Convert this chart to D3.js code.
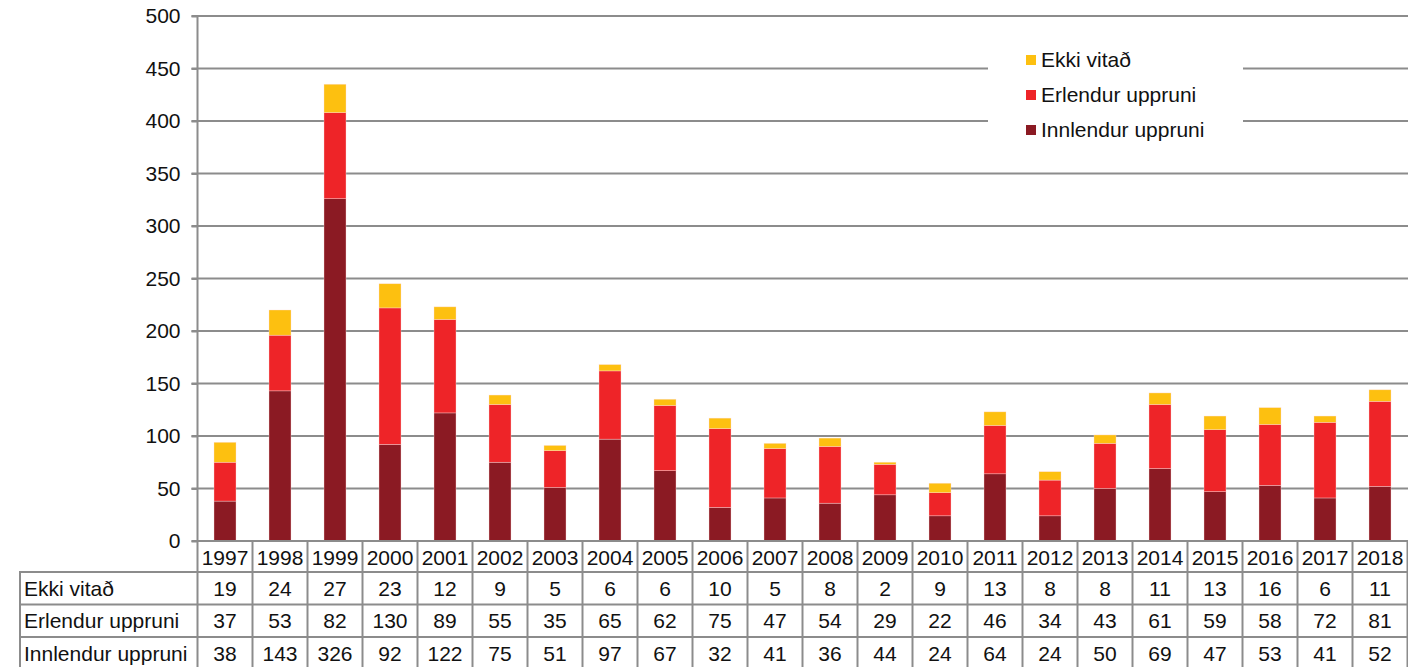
<!DOCTYPE html>
<html>
<head>
<meta charset="utf-8">
<script src="https://cdn.jsdelivr.net/npm/d3@7"></script>
<style>
  html, body { margin: 0; padding: 0; background: #fff; }
  svg { display: block; font-family: "Liberation Sans", Arial, sans-serif; }
</style>
</head>
<body>
<svg id="chart" width="1408" height="667"></svg>
<script>
const years = ["1997","1998","1999","2000","2001","2002","2003","2004","2005","2006","2007","2008","2009","2010","2011","2012","2013","2014","2015","2016","2017","2018"];
const ekkiVitad = [19,24,27,23,12,9,5,6,6,10,5,8,2,9,13,8,8,11,13,16,6,11];
const erlendur = [37,53,82,130,89,55,35,65,62,75,47,54,29,22,46,34,43,61,59,58,72,81];
const innlendur = [38,143,326,92,122,75,51,97,67,32,41,36,44,24,64,24,50,69,47,53,41,52];
const yTicks = [0,50,100,150,200,250,300,350,400,450,500];

const seriesNames = ["Innlendur uppruni","Erlendur uppruni","Ekki vitað"];
const seriesValues = [innlendur, erlendur, ekkiVitad];
const colors = ["#8B1A23","#EE2428","#FDC010"];

const svg = d3.select("#chart");
const gridCol = "#8c8c8c";
const fs = 21;
const txtCol = "#111";
const plotLeft = 197.5, plotRight = 1407.5, plotTop = 16, plotBottom = 541;

const x = d3.scaleBand().domain(years).range([plotLeft, plotRight]).paddingInner(0).paddingOuter(0);
const y = d3.scaleLinear().domain([0, 500]).range([plotBottom, plotTop]);

// gridlines
const grid = svg.append("g");
grid.selectAll("line").data(yTicks.filter(d => d > 0)).join("line")
  .attr("x1", plotLeft - 6).attr("x2", 1408)
  .attr("y1", d => y(d)).attr("y2", d => y(d))
  .attr("stroke", gridCol).attr("stroke-width", 2);

// y axis
const yAxis = d3.axisLeft(y).tickValues(yTicks).tickSize(6).tickPadding(11).tickFormat(d3.format("d"));
const ya = svg.append("g").attr("transform", `translate(${plotLeft},0)`).call(yAxis);
ya.select(".domain").remove();
ya.selectAll(".tick line").attr("stroke", gridCol).attr("stroke-width", 2);
ya.selectAll(".tick text").attr("font-size", fs).attr("fill", txtCol).attr("font-family", "Liberation Sans, Arial, sans-serif");
svg.append("line").attr("x1", plotLeft).attr("x2", plotLeft).attr("y1", plotTop - 1).attr("y2", 667)
  .attr("stroke", gridCol).attr("stroke-width", 2);

// stacked data
const tableData = years.map((yr, i) => {
  const o = { year: yr };
  seriesNames.forEach((s, k) => o[s] = seriesValues[k][i]);
  return o;
});
const stack = d3.stack().keys(seriesNames)(tableData);
const barW = 22;
svg.append("g").selectAll("g").data(stack).join("g")
  .attr("fill", (d, k) => colors[k])
  .selectAll("rect").data(d => d).join("rect")
  .attr("x", d => x(d.data.year) + x.bandwidth() / 2 - barW / 2)
  .attr("width", barW)
  .attr("y", d => y(d[1]))
  .attr("height", d => y(d[0]) - y(d[1]))
  .attr("stroke", "rgba(255,220,220,0.6)").attr("stroke-width", 0.6);

// legend box
const lg = svg.append("g");
lg.append("rect").attr("x", 988).attr("y", 40).attr("width", 255).attr("height", 112).attr("fill", "#fff");
const legendOrder = [2, 1, 0];
legendOrder.forEach((k, i) => {
  const yy = 60 + i * 35;
  lg.append("rect").attr("x", 1026).attr("y", yy - 5).attr("width", 10).attr("height", 10).attr("fill", colors[k]);
  lg.append("text").attr("x", 1041).attr("y", yy).attr("dy", "0.35em")
    .attr("font-size", fs).attr("fill", txtCol).text(seriesNames[k]);
});

// data table
const rowTop = 541, yearRowH = 31, rowH = 32.5;
const tbl = svg.append("g");
tbl.append("line").attr("x1", plotLeft - 6).attr("x2", 1408).attr("y1", plotBottom).attr("y2", plotBottom)
  .attr("stroke", gridCol).attr("stroke-width", 2);
tbl.selectAll("text.yr").data(years).join("text").attr("class", "yr")
  .attr("x", d => x(d) + x.bandwidth() / 2).attr("y", rowTop + yearRowH / 2 + 1).attr("dy", "0.35em")
  .attr("text-anchor", "middle").attr("font-size", fs).attr("fill", txtCol).text(d => d);
tbl.selectAll("line.v").data(years).join("line").attr("class", "v")
  .attr("x1", d => x(d) + x.bandwidth()).attr("x2", d => x(d) + x.bandwidth())
  .attr("y1", rowTop).attr("y2", 667).attr("stroke", gridCol).attr("stroke-width", 2);
const tableRows = [["Ekki vitað", ekkiVitad], ["Erlendur uppruni", erlendur], ["Innlendur uppruni", innlendur]];
const tableLeft = 20;
tableRows.forEach((r, i) => {
  const y0 = rowTop + yearRowH + i * rowH;
  tbl.append("line").attr("x1", tableLeft - 1).attr("x2", 1408).attr("y1", y0).attr("y2", y0)
    .attr("stroke", gridCol).attr("stroke-width", 2);
  tbl.append("text").attr("x", tableLeft + 4).attr("y", y0 + rowH / 2).attr("dy", "0.35em")
    .attr("font-size", fs).attr("fill", txtCol).text(r[0]);
  tbl.selectAll(null).data(r[1]).join("text")
    .attr("x", (d, j) => x(years[j]) + x.bandwidth() / 2).attr("y", y0 + rowH / 2).attr("dy", "0.35em")
    .attr("text-anchor", "middle").attr("font-size", fs).attr("fill", txtCol).text(d => d);
});
tbl.append("line").attr("x1", tableLeft).attr("x2", tableLeft).attr("y1", rowTop + yearRowH - 1).attr("y2", 667)
  .attr("stroke", gridCol).attr("stroke-width", 2);
</script>
</body>
</html>
